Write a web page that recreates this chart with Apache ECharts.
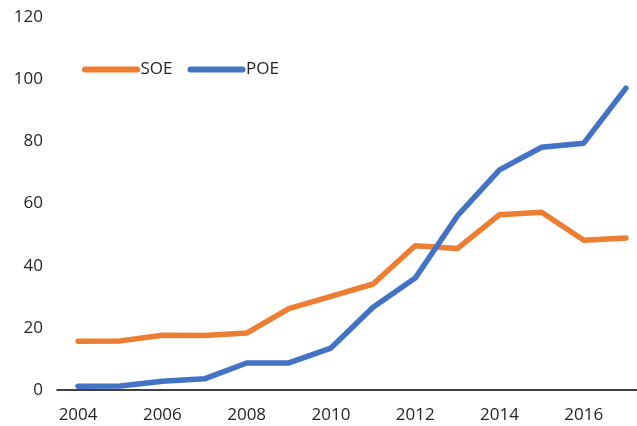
<!DOCTYPE html>
<html>
<head>
<meta charset="utf-8">
<script src="https://cdn.jsdelivr.net/npm/echarts@6/dist/echarts.min.js"></script>
<style>
html,body{margin:0;padding:0;background:#fff;}
#chart{width:637px;height:426px;}
</style>
</head>
<body>
<div id="chart"></div>
<script>
// 数据
var years = ['2004','2005','2006','2007','2008','2009','2010','2011','2012','2013','2014','2015','2016','2017'];
var soe = [15.7, 15.8, 17.6, 17.5, 18.3, 26.2, 30.1, 34.1, 46.4, 45.5, 56.4, 57.2, 48.2, 48.9];
var poe = [1.2, 1.3, 2.8, 3.6, 8.7, 8.7, 13.5, 26.6, 36.0, 56.0, 70.8, 78.1, 79.4, 97.1];

var myChart = echarts.init(document.getElementById('chart'));
var font = 'Open Sans';
// 图例用圆头粗线
var legendIcon = 'path://M3,0 H55 A3,3 0 0 1 55,6 H3 A3,3 0 0 1 3,0 Z';
var option = {
    animation: false,
    backgroundColor: '#fff',
    textStyle: { fontFamily: font },
    legend: {
        left: 77,
        top: 56,
        icon: legendIcon,
        itemWidth: 59,
        itemHeight: 6,
        itemGap: 15,
        textStyle: { fontSize: 17, color: '#262626', fontFamily: font, padding: [0, 0, 0, -5] },
        data: ['SOE', 'POE']
    },
    // 右侧被裁掉一点，所以宽度超出画布
    grid: { left: 57, width: 590, top: 17, bottom: 36, outerBoundsMode: 'none' },
    xAxis: {
        type: 'category',
        data: years,
        boundaryGap: true,
        axisLine: { lineStyle: { color: '#000', width: 1.5 } },
        axisTick: { interval: 1, length: 7, lineStyle: { color: '#000', width: 1.5 } },
        axisLabel: { interval: 1, fontSize: 17, color: '#262626', margin: 17, fontFamily: font }
    },
    yAxis: {
        type: 'value',
        min: 0,
        max: 120,
        interval: 20,
        axisLine: { show: false },
        axisTick: { show: false },
        splitLine: { show: false },
        axisLabel: { fontSize: 17, color: '#262626', margin: 14, fontFamily: font }
    },
    series: [{
        name: 'SOE',
        type: 'line',
        data: soe,
        symbol: 'none',
        color: '#ED7D31',
        lineStyle: { width: 5.5, cap: 'round', join: 'round' }
    }, {
        name: 'POE',
        type: 'line',
        data: poe,
        symbol: 'none',
        color: '#4472C4',
        lineStyle: { width: 5.5, cap: 'round', join: 'round' }
    }]
};
myChart.setOption(option);
</script>
</body>
</html>
